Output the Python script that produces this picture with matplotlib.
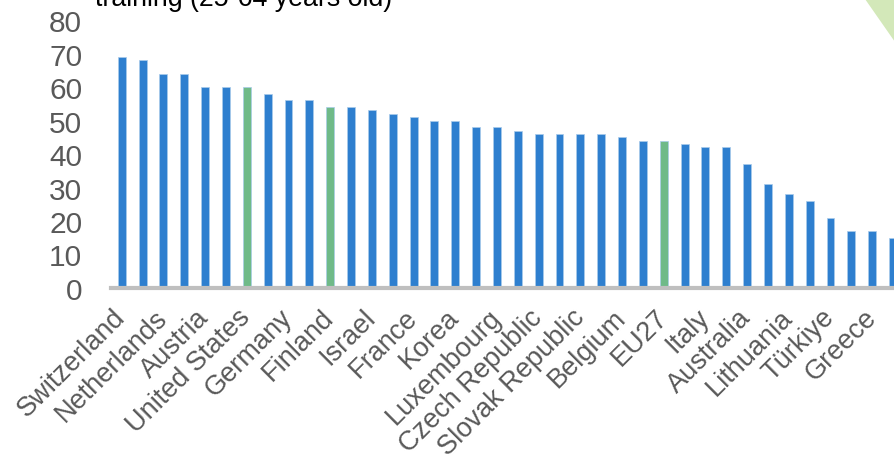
import matplotlib.pyplot as plt
from matplotlib.patches import Polygon

plt.rcParams['font.family'] = ['Liberation Sans', 'DejaVu Sans']

# share of adults (25-64) in training
values = [69, 68, 64, 64, 60, 60, 60, 58, 56, 56, 54, 54, 53, 52, 51, 50, 50, 48, 48,
          47, 46, 46, 46, 46, 45, 44, 44, 43, 42, 42, 37, 31, 28, 26, 21, 17, 17, 15]
# only every other bar carries a label
tick_labels = ["Switzerland", "Netherlands", "Austria", "United States", "Germany",
               "Finland", "Israel", "France", "Korea", "Luxembourg", "Czech Republic",
               "Slovak Republic", "Belgium", "EU27", "Italy", "Australia", "Lithuania",
               "Türkiye", "Greece"]
highlight = [6, 10, 26]
yticks = [0, 10, 20, 30, 40, 50, 60, 70, 80]

blue = "#2E7FCF"
green = "#6FBA88"
colors = [green if i in highlight else blue for i in range(len(values))]

fig = plt.figure(figsize=(8.95, 4.64), dpi=100)
ax = fig.add_axes([111.3 / 895, 175 / 464, 792.2 / 895, 268 / 464])

x = list(range(len(values)))
ax.bar(x, values, width=0.38, color=colors, edgecolor="#A9CBEB", linewidth=0.5)

ax.set_xlim(-0.5, len(values) - 0.5)
ax.set_ylim(0, 80)
ax.set_yticks(yticks)
ax.set_xticks(x[::2])
ax.set_xticklabels(tick_labels, rotation=45, ha="right", va="center",
                   rotation_mode="anchor")

for s in ["top", "right", "left"]:
    ax.spines[s].set_visible(False)
ax.spines["bottom"].set_color("#BFBFBF")
ax.spines["bottom"].set_linewidth(3)

ax.tick_params(axis="y", length=0, pad=21, labelsize=21.5, labelcolor="#595959")
ax.tick_params(axis="x", length=0, pad=18, labelsize=19.5, labelcolor="#595959")

# title clipped at the top of the picture
fig.text(95 / 895, 1 - 6 / 464, "training (25-64 years old)", fontsize=19.3,
         color="black", ha="left", va="baseline")

# green decorative corner
fig.patches.append(Polygon([(865 / 895, 1), (1, 1 - 43 / 464), (1, 1)], closed=True,
                           transform=fig.transFigure, facecolor="#D3E8B9",
                           edgecolor="none"))

fig.savefig("out.png", dpi=100)
